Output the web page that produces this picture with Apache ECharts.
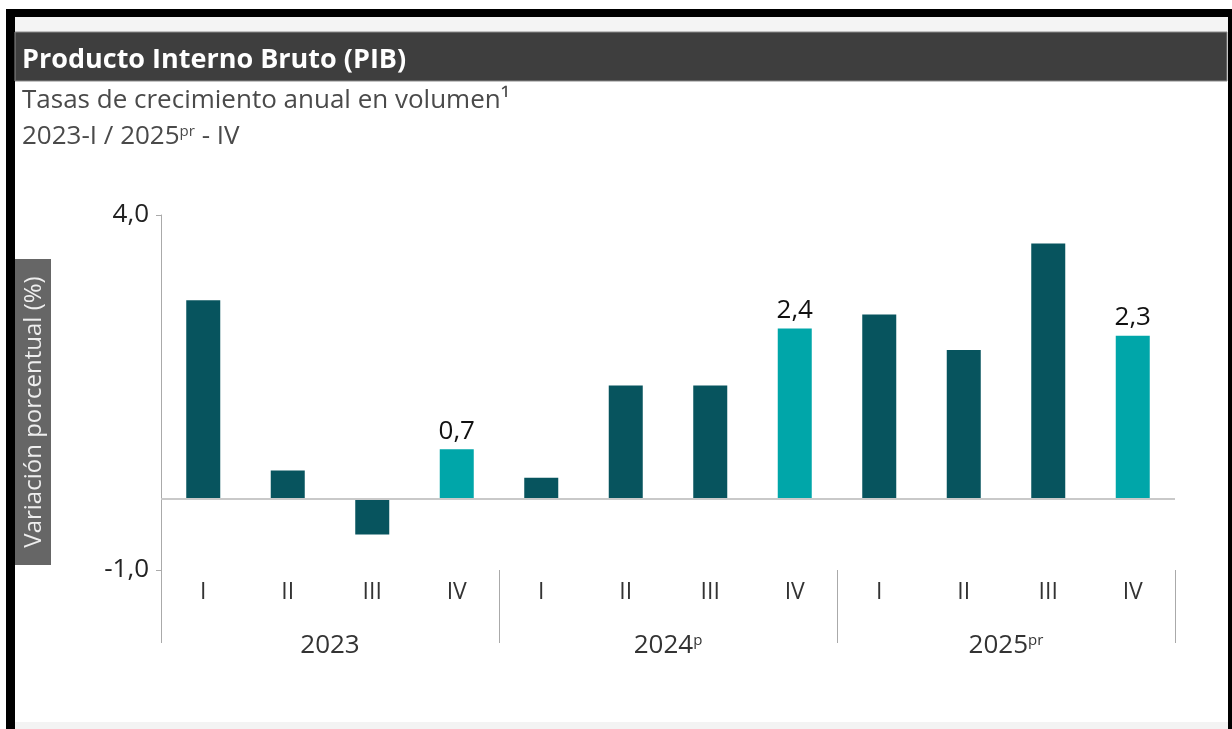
<!DOCTYPE html>
<html>
<head>
<meta charset="utf-8">
<script src="https://cdn.jsdelivr.net/npm/echarts@6/dist/echarts.min.js"></script>
<style>
  html, body { margin: 0; padding: 0; background: #fff; }
  #chart { width: 1232px; height: 729px; }
</style>
</head>
<body>
<div id="chart"></div>
<script>
// datos
const quarters = ['I', 'II', 'III', 'IV', 'I', 'II', 'III', 'IV', 'I', 'II', 'III', 'IV']
const years = ['2023', '2024', '2025']
const yearMarks = ['', 'p', 'pr']
const growth = [2.8, 0.4, -0.5, 0.7, 0.3, 1.6, 1.6, 2.4, 2.6, 2.1, 3.6, 2.3]
const yTicks = [-1, 4]

const DARK = '#07545e'
const LIGHT = '#00a6a9'
const FONT = 'Open Sans'

const fmt = v => v.toFixed(1).replace('.', ',')

const chart = echarts.init(document.getElementById('chart'), null, { renderer: 'canvas' })

chart.setOption({
  animation: false,
  backgroundColor: '#fff',
  textStyle: { fontFamily: FONT },
  grid: {
    left: 161,
    right: 57,
    top: 215,
    bottom: 159
  },
  graphic: [
    // marco
    { type: 'rect', z: 0, shape: { x: 6, y: 9, width: 1226, height: 8 }, style: { fill: '#000' } },
    { type: 'rect', z: 0, shape: { x: 6, y: 9, width: 9, height: 720 }, style: { fill: '#000' } },
    { type: 'rect', z: 0, shape: { x: 1228, y: 9, width: 4, height: 720 }, style: { fill: '#000' } },
    { type: 'rect', z: 0, shape: { x: 15, y: 17, width: 1213, height: 15 }, style: { fill: '#f4f4f4' } },
    { type: 'rect', z: 0, shape: { x: 15, y: 32, width: 1212, height: 49 }, style: { fill: '#3e3e3e', stroke: '#8a8a8a', lineWidth: 1 } },
    { type: 'rect', z: 0, shape: { x: 15, y: 722, width: 1213, height: 7 }, style: { fill: '#f3f3f3' } },
    // titulos
    {
      type: 'text', z: 10, x: 22, y: 60,
      style: {
        text: 'Producto Interno Bruto (PIB)',
        fill: '#fff',
        font: 'bold 27px "Open Sans"',
        verticalAlign: 'middle'
      }
    },
    {
      type: 'text', z: 10, x: 22, y: 101,
      style: {
        text: 'Tasas de crecimiento anual en volumen¹',
        fill: '#4a4a4a',
        font: '26px "Open Sans"',
        verticalAlign: 'middle'
      }
    },
    {
      type: 'text', z: 10, x: 22, y: 137,
      style: {
        text: '2023-I / 2025{s|pr} - IV',
        fill: '#4a4a4a',
        font: '26px "Open Sans"',
        verticalAlign: 'middle',
        rich: {
          s: { fontSize: 15, fontFamily: FONT, fill: '#4a4a4a', verticalAlign: 'top', lineHeight: 26 }
        }
      }
    },
    // nombre del eje
    {
      type: 'group', x: 33, y: 412, rotation: Math.PI / 2, z: 10,
      children: [
        { type: 'rect', shape: { x: -153, y: -18, width: 306, height: 36 }, style: { fill: '#666' } },
        {
          type: 'text', x: 0, y: 1,
          style: {
            text: 'Variación porcentual (%)',
            fill: '#eee',
            font: '24px "Open Sans"',
            align: 'center',
            verticalAlign: 'middle'
          }
        }
      ]
    }
  ],
  xAxis: [
    {
      type: 'category',
      data: quarters,
      position: 'bottom',
      axisLine: { show: false },
      axisTick: { show: false },
      axisLabel: { margin: 11, fontSize: 23, color: '#333', fontFamily: FONT }
    },
    {
      type: 'category',
      data: years,
      position: 'bottom',
      axisLine: { show: false },
      axisTick: { show: true, length: 73, lineStyle: { color: '#aaa', width: 1 } },
      axisLabel: {
        margin: 63,
        fontSize: 26,
        color: '#333',
        fontFamily: FONT,
        formatter: (v, i) => yearMarks[i] ? v + '{s|' + yearMarks[i] + '}' : v,
        rich: {
          s: { fontSize: 15, fontFamily: FONT, color: '#333', verticalAlign: 'top', lineHeight: 26 }
        }
      }
    }
  ],
  yAxis: {
    type: 'value',
    min: -1,
    max: 4,
    interval: 1,
    axisLine: { show: true, lineStyle: { color: '#aaa', width: 1 } },
    axisTick: { show: true, length: 5, customValues: yTicks, lineStyle: { color: '#aaa' } },
    splitLine: { show: false },
    axisLabel: {
      customValues: yTicks,
      margin: 12,
      fontSize: 26,
      color: '#222',
      fontFamily: FONT,
      formatter: v => fmt(v)
    }
  },
  series: [
    {
      type: 'bar',
      xAxisIndex: 0,
      data: growth,
      barWidth: 34,
      itemStyle: {
        color: p => (p.dataIndex % 4 === 3 ? LIGHT : DARK)
      },
      label: {
        show: true,
        position: 'top',
        distance: 5,
        fontSize: 26,
        color: '#111',
        fontFamily: FONT,
        formatter: p => (p.dataIndex % 4 === 3 ? fmt(p.value) : '')
      },
      markLine: {
        silent: true,
        symbol: ['none', 'none'],
        label: { show: false },
        lineStyle: { color: '#c9c9c9', width: 2, type: 'solid' },
        data: [{ yAxis: 0 }]
      }
    }
  ]
})
</script>
</body>
</html>
